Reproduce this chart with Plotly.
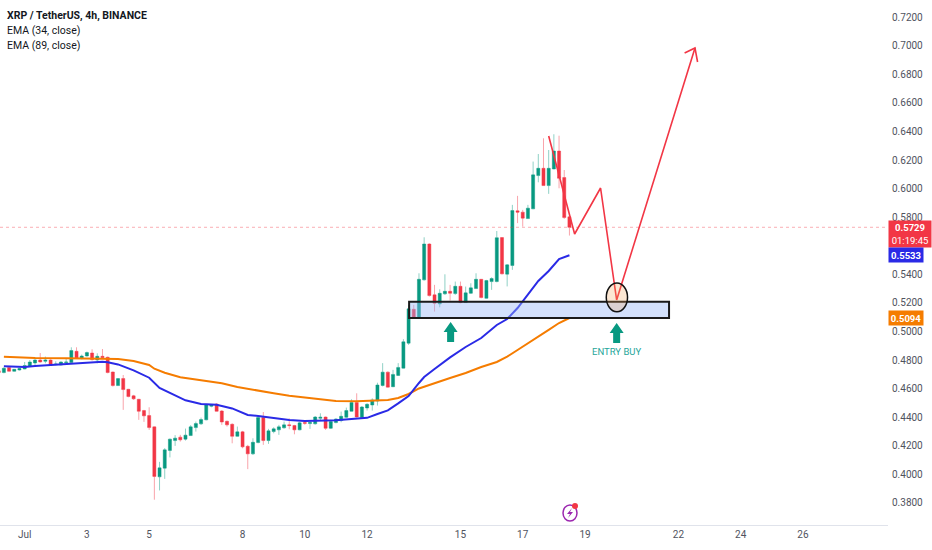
import pandas as pd
import plotly.graph_objects as go

# candles, 4h, first one is Jun 30 04:00
opens = [.4724,.4712,.4747,.4721,.4730,.4737,.4758,.4779,.4800,.4791,.4800,.4768,.4765,.4782,.4782,.4861,.4810,.4828,.4849,.4800,.4826,
         .4819,.4716,.4621,.4670,.4595,.4549,.4525,.4446,.4411,.4332,.3982,.4043,.4167,.4236,.4260,.4246,.4271,.4327,.4353,.4381,.4476,
         .4492,.4443,.4371,.4350,.4266,.4297,.4196,.4143,.4222,.4397,.4236,.4299,.4311,.4325,.4346,.4341,.4311,.4362,.4355,.4353,.4392,
         .4401,.4322,.4362,.4376,.4399,.4441,.4502,.4397,.4464,.4485,.4513,.4622,.4715,.4613,.4692,.4743,.4918,.5155,.5095,.5361,.5612,
         .5256,.5193,.5263,.5281,.5265,.5316,.5202,.5267,.5300,.5365,.5232,.5349,.5349,.5657,.5401,.5462,.5844,.5835,.5790,.5858,.6091,
         .6142,.6021,.6137,.6263,.6077,.5802]
highs = [.4726,.4749,.4749,.4737,.4744,.4786,.4800,.4819,.4849,.4824,.4805,.4791,.4791,.4810,.4889,.4889,.4838,.4859,.4875,.4847,.4877,
         .4824,.4719,.4672,.4695,.4598,.4556,.4528,.4451,.4469,.4334,.4087,.4183,.4250,.4274,.4276,.4320,.4344,.4369,.4397,.4490,.4492,
         .4497,.4450,.4376,.4357,.4334,.4304,.4206,.4252,.4399,.4436,.4318,.4329,.4346,.4369,.4392,.4346,.4367,.4376,.4364,.4408,.4427,
         .4404,.4381,.4392,.4439,.4467,.4525,.4567,.4478,.4497,.4532,.4641,.4778,.4720,.4731,.4778,.4946,.5186,.5186,.5407,.5659,.5617,
         .5326,.5295,.5400,.5326,.5349,.5349,.5314,.5337,.5407,.5367,.5361,.5379,.5703,.5660,.5471,.5886,.5949,.5851,.5886,.6189,.6242,
         .6352,.6270,.6380,.6370,.6130,.5804]
lows = [.4710,.4707,.4719,.4719,.4726,.4735,.4756,.4765,.4782,.4777,.4763,.4763,.4763,.4777,.4777,.4810,.4805,.4824,.4796,.4777,.4810,
        .4707,.4614,.4619,.4451,.4539,.4521,.4381,.4367,.4311,.3822,.3887,.3968,.4118,.4199,.4229,.4236,.4269,.4299,.4346,.4378,.4469,
        .4439,.4346,.4334,.4217,.4264,.4182,.4036,.4136,.4217,.4206,.4213,.4287,.4276,.4320,.4315,.4280,.4308,.4346,.4318,.4348,.4376,
        .4311,.4318,.4357,.4364,.4395,.4439,.4397,.4392,.4446,.4446,.4481,.4615,.4608,.4610,.4689,.4741,.4906,.5093,.5093,.5356,.5244,
        .5139,.5169,.5256,.5216,.5256,.5197,.5200,.5263,.5298,.5232,.5230,.5291,.5344,.5399,.5315,.5431,.5758,.5734,.5788,.5856,.6044,
        .6019,.5963,.6135,.6002,.5788,.5671]
closes = [.4712,.4742,.4721,.4735,.4740,.4761,.4786,.4800,.4786,.4800,.4765,.4772,.4786,.4786,.4866,.4814,.4828,.4852,.4803,.4826,.4817,
          .4712,.4621,.4670,.4593,.4544,.4528,.4441,.4409,.4327,.3985,.4045,.4171,.4246,.4253,.4241,.4274,.4332,.4355,.4383,.4485,.4485,
          .4441,.4366,.4346,.4266,.4297,.4192,.4143,.4224,.4397,.4236,.4304,.4318,.4332,.4346,.4341,.4311,.4360,.4357,.4362,.4401,.4399,
          .4322,.4369,.4387,.4406,.4446,.4502,.4401,.4471,.4490,.4520,.4625,.4715,.4610,.4699,.4748,.4927,.5158,.5095,.5365,.5612,.5251,
          .5197,.5267,.5281,.5267,.5316,.5202,.5270,.5305,.5365,.5237,.5356,.5370,.5656,.5403,.5466,.5846,.5835,.5793,.5863,.6096,.6142,
          .6021,.6142,.6263,.6072,.5797,.5729]

ema34_bars = [0,4,6,9,12,15,19,20,22,25,28,30,32,35,38,41,44,47,49,52,55,58,61,64,67,70,72,74,76,78,80,81,83,86,89,92,95,97,99,101,103,105,107,109]
ema34 = [.4756,.4751,.4758,.4765,.4770,.4781,.4788,.4784,.4769,.4727,.4676,.4604,.4569,.4518,.4492,.4487,.4461,.4415,.4408,.4394,.4380,.4373,
         .4373,.4378,.4387,.4395,.4422,.4447,.4496,.4548,.4639,.4681,.4737,.4818,.4891,.4954,.5045,.5087,.5164,.5255,.5353,.5423,.5507,.5533]
ema89_bars = [0,6,12,19,22,25,28,29,31,34,38,39,42,45,48,52,55,58,61,64,68,71,74,76,78,80,83,86,89,92,95,97,99,102,105,107,109]
ema89 = [.4823,.4814,.4812,.4812,.4807,.4793,.4765,.4739,.4711,.4679,.4660,.4651,.4637,.4611,.4590,.4567,.4550,.4536,.4525,.4513,.4511,.4515,
         .4520,.4534,.4562,.4601,.4639,.4674,.4709,.4751,.4786,.4823,.4870,.4938,.5011,.5059,.5094]

# the hand drawn forecast
path_bars = [105,110,115,118.1,133.2]
path_prices = [.6368,.5682,.6004,.5220,.6984]
head_bars = [131.2,133.2,133.7]
head_prices = [.6949,.6984,.6886]

# 0.5600 sits behind the last price badge in the original
price_ticks = [.38,.40,.42,.44,.46,.48,.50,.52,.54,.58,.60,.62,.64,.66,.68,.70,.72]
date_labels = ["Jul","3","5","8","10","12","15","17","19","22","24","26"]
date_ticks = ["2024-07-01","2024-07-03","2024-07-05","2024-07-08","2024-07-10","2024-07-12",
              "2024-07-15","2024-07-17","2024-07-19","2024-07-22","2024-07-24","2024-07-26"]

GREEN = "#089981"
RED = "#f23645"
BLUE = "#2a2ae6"
ORANGE = "#f57c00"
TEXT = "#50535e"
FONT = "Roboto"

bar0 = pd.Timestamp("2024-06-30 08:00")
def at(k):
    return bar0 + pd.Timedelta(hours=4 * k)

times = [at(k) for k in range(-1, 110)]

fig = go.Figure()
fig.add_trace(go.Candlestick(
    x=times, open=opens, high=highs, low=lows, close=closes, whiskerwidth=0,
    increasing=dict(fillcolor=GREEN, line=dict(color="rgba(8,153,129,0.45)", width=1)),
    decreasing=dict(fillcolor=RED, line=dict(color="rgba(242,54,69,0.45)", width=1)),
))
fig.add_trace(go.Scatter(x=[at(k) for k in ema89_bars], y=ema89, mode="lines",
                         line=dict(color=ORANGE, width=2)))
fig.add_trace(go.Scatter(x=[at(k) for k in ema34_bars], y=ema34, mode="lines",
                         line=dict(color=BLUE, width=2)))
fig.add_trace(go.Scatter(x=[at(k) for k in path_bars], y=path_prices, mode="lines",
                         line=dict(color=RED, width=1.6)))
fig.add_trace(go.Scatter(x=[at(k) for k in head_bars], y=head_prices, mode="lines",
                         line=dict(color=RED, width=1.6)))

# last price line
fig.add_shape(type="line", xref="paper", x0=0, x1=1, y0=closes[-1], y1=closes[-1],
              line=dict(color="rgba(242,54,69,0.4)", width=1, dash="dot"))
# support box and circle
fig.add_shape(type="rect", x0=at(78.1), x1=at(128.2), y0=.5094, y1=.5208,
              fillcolor="rgba(150,180,245,0.42)", line=dict(color="#1a1a1a", width=2))
fig.add_shape(type="circle", x0=at(116.1), x1=at(120.2), y0=.5138, y1=.5339,
              fillcolor="rgba(245,160,80,0.25)", line=dict(color="#111111", width=1.5))

# green arrows, drawn in pixels around their anchor
arrow = "M -3.5 0 L -3.5 10 L -7 10 L 0 20 L 7 10 L 3.5 10 L 3.5 0 Z"
for k, price in [(86.1, .4926), (118.1, .4919)]:
    fig.add_shape(type="path", path=arrow, xsizemode="pixel", ysizemode="pixel",
                  xanchor=at(k), yanchor=price, fillcolor=GREEN, line=dict(width=0))

# lightning mark
fig.add_shape(type="circle", xref="paper", yref="paper", xsizemode="pixel", ysizemode="pixel",
              xanchor=570 / 888, yanchor=1 - 513 / 525, x0=-7, x1=7, y0=-8, y1=8,
              line=dict(color="#9c27b0", width=1.5))
fig.add_shape(type="path", xref="paper", yref="paper", xsizemode="pixel", ysizemode="pixel",
              xanchor=570 / 888, yanchor=1 - 513 / 525,
              path="M 2 5 L -3 -1 L 0 -1 L -2 -5 L 3 1 L 0 1 Z", fillcolor="#9c27b0", line=dict(width=0))
fig.add_shape(type="circle", xref="paper", yref="paper", xsizemode="pixel", ysizemode="pixel",
              xanchor=575 / 888, yanchor=1 - 506 / 525, x0=-3, x1=3, y0=-3, y1=3,
              fillcolor=RED, line=dict(width=0))

fig.add_annotation(x=at(118.1), y=.4863, text="ENTRY BUY", showarrow=False,
                   font=dict(family=FONT, size=9.5, color="#26a69a"))

# header
header = ["<b>XRP / TetherUS, 4h, BINANCE</b>", "EMA (34, close)", "EMA (89, close)"]
for text, ypx in zip(header, [15, 30, 45]):
    fig.add_annotation(xref="paper", yref="paper", x=5 / 888, y=1 - ypx / 525, text=text, showarrow=False,
                       xanchor="left", yanchor="middle", font=dict(family=FONT, size=10.5, color="#131722"))

# price badges
badges = [("<b>0.5729</b><br>01:19:45", .5680, RED, 26, 42),
          ("<b>0.5533</b>", ema34[-1], BLUE, 14, 34),
          ("<b>0.5094</b>", ema89[-1], ORANGE, 14, 34)]
for text, price, color, h, w in badges:
    fig.add_annotation(xref="paper", x=1, y=price, text=text, showarrow=False, xanchor="left", yanchor="middle",
                       width=w, height=h, bgcolor=color, borderpad=0, align="center",
                       font=dict(family=FONT, size=9.5, color="white"))

fig.update_layout(
    width=932, height=550, showlegend=False, boxgap=0.15,
    margin=dict(l=0, r=44, t=0, b=25),
    paper_bgcolor="white", plot_bgcolor="white",
    font=dict(family=FONT, size=10, color=TEXT),
    xaxis=dict(range=[at(-0.75), at(170.4)], rangeslider=dict(visible=False), showgrid=False, zeroline=False,
               tickmode="array", tickvals=date_ticks, ticktext=date_labels, ticklen=0,
               showline=True, linecolor="#e0e3eb", linewidth=1),
    yaxis=dict(range=[.3645, .732], side="right", showgrid=False, zeroline=False, showline=False,
               tickmode="array", tickvals=price_ticks, tickformat=".4f", ticklen=0, ticklabelstandoff=3),
)

fig.write_html("out.html", config=dict(displayModeBar=False),
               post_script="document.body.style.margin='0';")
